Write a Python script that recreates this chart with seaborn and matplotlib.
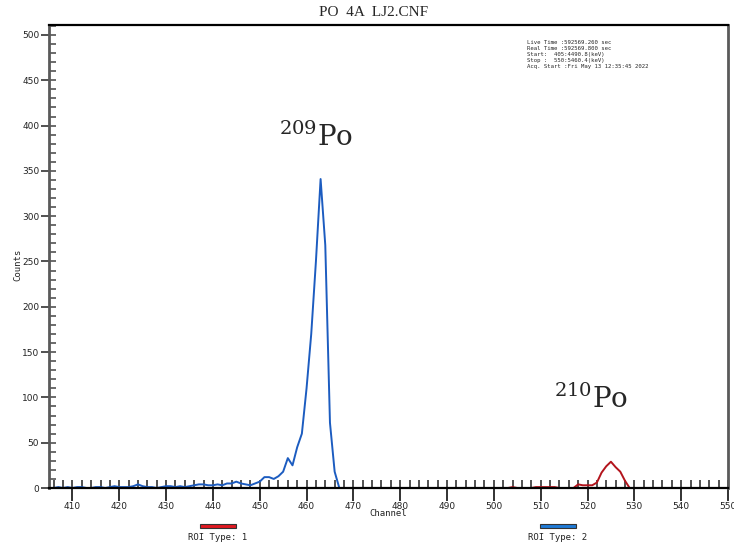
import pandas as pd
import matplotlib
matplotlib.use("Agg")
import matplotlib.pyplot as plt
import matplotlib.font_manager as fm
from matplotlib.patches import Rectangle
from matplotlib.ticker import MultipleLocator
import seaborn as sns

# Spectrum data (channel -> counts)
roi1_start = 405
roi1_counts = [0, 0, 1, 0, 1, 0, 1, 1, 0, 0,
               1, 1, 0, 1, 2, 1, 1, 1, 2, 4,
               2, 1, 1, 0, 1, 2, 2, 1, 2, 1,
               2, 3, 4, 4, 3, 3, 4, 3, 5, 5,
               7, 5, 4, 3, 5, 7, 12, 12, 10, 13,
               18, 33, 25, 45, 60, 110, 170, 250, 341, 268,
               72, 18, 0]
roi2_start = 503
roi2_counts = [0, 1, 0, 0, 0, 0, 1, 1, 1, 1,
               1, 0, 0, 0, 0, 4, 3, 3, 3, 6,
               17, 24, 29, 23, 18, 8, 0]

title = "PO  4A  LJ2.CNF"
info_lines = ["Live Time :592569.260 sec",
              "Real Time :592569.800 sec",
              "Start:  405:4490.8(keV)",
              "Stop :  550:5460.4(keV)",
              "Acq. Start :Fri May 13 12:35:45 2022"]
roi_labels = ["ROI Type: 1", "ROI Type: 2"]

blue = "#1c5cc0"
red = "#b3141c"

roi1 = pd.DataFrame({"Channel": list(range(roi1_start, roi1_start + len(roi1_counts))),
                     "Counts": roi1_counts})
roi2 = pd.DataFrame({"Channel": list(range(roi2_start, roi2_start + len(roi2_counts))),
                     "Counts": roi2_counts})

sns.set_style("white")
plt.rcParams["mathtext.fontset"] = "dejavuserif"

# narrow font for tick labels if we have one
names = {f.name for f in fm.fontManager.ttflist}
tick_font = "Liberation Sans Narrow" if "Liberation Sans Narrow" in names else "DejaVu Sans"
tick_size = 7.5 if tick_font == "Liberation Sans Narrow" else 6.5

fig = plt.figure(figsize=(7.34, 5.47), dpi=100)
ax = fig.add_axes([49 / 734, 1 - 488 / 547, (728 - 49) / 734, (488 - 25) / 547])

sns.lineplot(data=roi1, x="Channel", y="Counts", color=blue, linewidth=1.4, ax=ax)
sns.lineplot(data=roi2, x="Channel", y="Counts", color=red, linewidth=1.4, ax=ax)

ax.set_xlim(405, 550)
ax.set_ylim(0, 511)

ax.xaxis.set_major_locator(MultipleLocator(10))
ax.xaxis.set_minor_locator(MultipleLocator(2))
ax.yaxis.set_major_locator(MultipleLocator(50))
ax.yaxis.set_minor_locator(MultipleLocator(10))
ax.xaxis.remove_overlapping_locs = False
ax.yaxis.remove_overlapping_locs = False

# seaborn "white" style hides ticks, turn them back on
ax.tick_params(which="both", bottom=True, left=True, top=False, right=False)
ax.tick_params(axis="x", which="major", direction="out", length=9, width=1.3, pad=1, colors="#222222")
ax.tick_params(axis="x", which="minor", direction="in", length=6, width=1.1, color="#222222")
ax.tick_params(axis="y", which="major", direction="out", length=6, width=1.1, pad=1, colors="#222222")
ax.tick_params(axis="y", which="minor", direction="in", length=5, width=1.1, color="#444444")
for lab in ax.get_xticklabels() + ax.get_yticklabels():
    lab.set_fontfamily(tick_font)
    lab.set_fontsize(tick_size)

for side in ["top", "bottom"]:
    ax.spines[side].set_color("black")
    ax.spines[side].set_linewidth(1.6)
for side in ["left", "right"]:
    ax.spines[side].set_color("#5a5a5a")
    ax.spines[side].set_linewidth(2)

ax.set_xlabel("")
ax.set_ylabel("")
fig.text(388 / 734, 1 - 514 / 547, "Channel", family="DejaVu Sans Mono", fontsize=6.5,
         ha="center", va="center", color="#222222")
fig.text(18 / 734, 1 - 265 / 547, "Counts", family="DejaVu Sans Mono", fontsize=6.5,
         rotation=90, ha="center", va="center", color="#222222")

fig.text(374 / 734, 1 - 13 / 547, title, family="Liberation Serif", fontsize=11,
         ha="center", va="center")

fig.text(527 / 734, 1 - 40 / 547, "\n".join(info_lines), family="DejaVu Sans Mono",
         fontsize=4.1, ha="left", va="top", linespacing=1.25)

# peak labels
ax.text(462.1, 377, r"$^{209}$Po", family="DejaVu Serif", fontsize=20,
        ha="center", va="baseline")
ax.text(520.8, 88, r"$^{210}$Po", family="DejaVu Serif", fontsize=20,
        ha="center", va="baseline")

# ROI legend bars
for x0, fc, lab, tx in [(200, "#e01820", roi_labels[0], 218), (540, "#1e7ad6", roi_labels[1], 558)]:
    fig.patches.append(Rectangle((x0 / 734, 1 - 528 / 547), 36 / 734, 4.5 / 547,
                                 transform=fig.transFigure, facecolor=fc,
                                 edgecolor="#333333", linewidth=0.8))
    fig.text(tx / 734, 1 - 538 / 547, lab, family="DejaVu Sans Mono", fontsize=6.5,
             ha="center", va="center", color="#222222")

fig.savefig("out.png", dpi=100)
